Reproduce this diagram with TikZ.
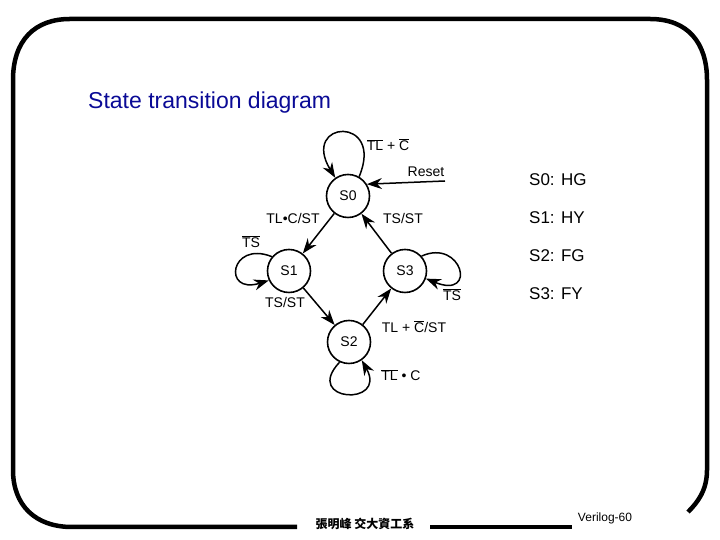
\documentclass[tikz,border=0pt]{standalone}
\usepackage{fontspec}
\setmainfont{Liberation Sans}
\newfontfamily\cjkfont{Noto Sans CJK TC}
\usetikzlibrary{arrows.meta,positioning}
\definecolor{titleblue}{RGB}{10,10,150}
\newcommand{\inv}[1]{$\overline{\mbox{#1}}$}
\tikzset{
  st/.style = {draw, circle, line width=1.6pt, minimum size=43pt, inner sep=0pt, font=\fontsize{14}{16}\selectfont},
  lbl/.style = {font=\fontsize{14}{16}\selectfont, inner sep=1pt},
  key/.style = {font=\fontsize{17}{20}\selectfont, anchor=west, inner sep=0pt},
  arrow/.style = {line width=1.5pt, -{Stealth[length=15pt,width=11pt]}},
  frame/.style = {line width=4.5pt}
}

\begin{document}
\begin{tikzpicture}[x=1pt,y=1pt]
  \useasboundingbox (0,0) rectangle (720,540);
  % slide frame
  \draw[frame] (297,13) -- (72,13) .. controls (35,13) and (13,35) .. (13,70) -- (13,460)
    .. controls (13,500) and (35,521) .. (70,521) -- (650,521)
    .. controls (688,521) and (707,497) .. (707,460) -- (707,70)
    .. controls (707,50) and (698,38) .. (688,28);
  \draw[frame] (430,13) -- (572,13);

  \node[anchor=west, inner sep=0pt, text=titleblue, font=\fontsize{23}{27}\selectfont] (title) at (88,437) {State transition diagram};

  % states
  \node[st] (S0) at (348,344) {S0};
  \node[st] (S1) at (289,269) {S1};
  \node[st] (S3) at (405,269) {S3};
  \node[st] (S2) at (349,198) {S2};
  \coordinate (rst) at (445,359);

  % transitions
  \draw[arrow] (S0.60) .. controls (385,425) and (300,420) .. (S0.125);
  \draw[arrow] (rst) -- (S0.32);
  \draw[arrow] (S0) -- (S1);
  \draw[arrow] (S3) -- (S0);
  \draw[arrow] (S1.140) .. controls (230,300) and (222,245) .. (S1.205);
  \draw[arrow] (S3.42) .. controls (462,302) and (478,240) .. (S3.-20);
  \draw[arrow] (S1) -- (S2);
  \draw[arrow] (S2) -- (S3);
  \draw[arrow] (S2.245) .. controls (302,138) and (388,133) .. (S2.305);

  % labels
  \node[lbl] (l00) at (388,395) {\inv{TL} + \inv{C}};
  \node[lbl] (lrst) at (426,368) {Reset};
  \node[lbl] (l01) at (293,321) {TL•C/ST};
  \node[lbl] (l30) at (403,321) {TS/ST};
  \node[lbl] (l11) at (251,298) {\inv{TS}};
  \node[lbl] (l12) at (285,237) {TS/ST};
  \node[lbl] (l33) at (452,245) {\inv{TS}};
  \node[lbl] (l23) at (414,213) {TL + \inv{C}/ST};
  \node[lbl] (l22) at (401,165) {\inv{TL} • C};

  % state encoding
  \node[key] (k0) at (529,360) {S0: HG};
  \node[key, below=38pt of k0.west, anchor=west] (k1) {S1: HY};
  \node[key, below=38pt of k1.west, anchor=west] (k2) {S2: FG};
  \node[key, below=38pt of k2.west, anchor=west] (k3) {S3: FY};

  % footer
  \node[font=\cjkfont\bfseries\fontsize{12}{14}\selectfont] (author) at (365,16) {張明峰 交大資工系};
  \node[font=\fontsize{12}{14}\selectfont] (page) at (605,22) {Verilog-60};
\end{tikzpicture}
\end{document}
